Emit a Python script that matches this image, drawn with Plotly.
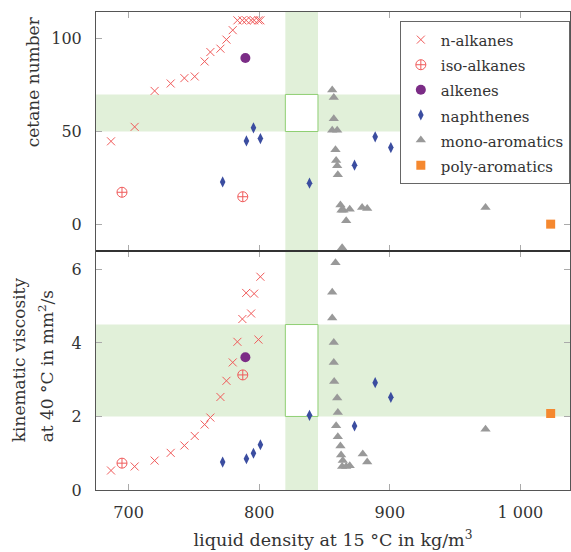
import plotly.graph_objects as go
from plotly.subplots import make_subplots

# ---------------- data ----------------
nalk_density = [686.5, 704.6, 719.9, 732.2, 742.7, 750.6, 758.2, 762.6, 770.3, 774.9,
                779.7, 783.3, 787.1, 790.0, 793.8, 796.1, 799.4, 800.9]
nalk_cetane = [44.7, 52.5, 71.9, 75.9, 78.8, 79.7, 87.8, 92.9, 94.7, 99.6,
               104.7, 110, 110, 110, 110, 110, 110, 110]
nalk_visc = [0.53, 0.64, 0.80, 1.01, 1.21, 1.47, 1.78, 1.97, 2.53, 2.97,
             3.47, 4.03, 4.65, 5.36, 4.80, 5.34, 4.09, 5.80]

iso_density = [694.9, 787.4]
iso_cetane = [17.2, 14.8]
iso_visc = [0.73, 3.13]

alkene_density = [789.4]
alkene_cetane = [89.7]
alkene_visc = [3.61]

naph_density = [772.0, 790.2, 795.6, 800.9, 838.5, 873.0, 888.8, 900.8]
naph_cetane = [22.8, 44.9, 52.0, 46.2, 22.1, 31.8, 47.1, 41.3]
naph_visc = [0.76, 0.85, 1.00, 1.23, 2.03, 1.74, 2.92, 2.52]

mono_density_cn = [855.9, 857.1, 857.1, 855.9, 859.7, 858.4, 858.9, 859.7, 860.2,
                   862.2, 863.0, 864.5, 869.3, 878.8, 882.7, 866.6, 863.5, 973.3]
mono_cetane = [72.4, 68.3, 56.9, 50.7, 50.7, 40.2, 34.4, 31.5, 26.6,
               10.3, 7.5, 7.5, 8.0, 9.0, 8.5, 1.8, -12.7, 9.0]
mono_density_v = [858.4, 855.9, 855.9, 857.1, 857.1, 857.4, 859.7, 860.2, 858.9, 860.2,
                  862.2, 862.7, 864.0, 863.5, 866.6, 869.3, 879.3, 882.7, 973.3]
mono_visc = [6.18, 5.38, 4.68, 4.01, 3.47, 2.95, 2.50, 2.11, 1.75, 1.45,
             1.20, 0.95, 0.80, 0.64, 0.64, 0.66, 0.98, 0.76, 1.65]

poly_density = [1023.2]
poly_cetane = [0]
poly_visc = [2.08]

# specification limits
density_lim = [820, 845]
cetane_lim = [50, 70]
visc_lim = [2.0, 4.5]

x_ticks = [700, 800, 900, 1000]
x_ticktext = ["700", "800", "900", "1 000"]
cn_ticks = [0, 50, 100]
v_ticks = [0, 2, 4, 6]

x_range = [675, 1038]
cn_range = [-14.5, 114.5]
v_range = [0, 6.5]

x_title = "liquid density at 15 °C in kg/m<sup>3</sup>"
cn_title = "cetane number"
v_title_lines = ["kinematic viscosity", "at 40 °C in mm<sup>2</sup>/s"]

# ---------------- styles ----------------
FONT = "DejaVu Serif"
TXT = "#333333"
RED = "#f05a5a"
styles = {
    "n-alkanes": dict(symbol="x-thin", size=8, color=RED, line=dict(width=1, color=RED)),
    "iso-alkanes": dict(symbol="circle-cross-open", size=10, color=RED, line=dict(width=1, color=RED)),
    "alkenes": dict(symbol="circle", size=10, color="#7b2c86"),
    "naphthenes": dict(symbol="diamond-tall", size=8, color="#3b4da0"),
    "mono-aromatics": dict(symbol="triangle-up", size=9, color="#999999"),
    "poly-aromatics": dict(symbol="square", size=9, color="#f5882f"),
}

series = [
    ("n-alkanes", nalk_density, nalk_cetane, nalk_density, nalk_visc),
    ("iso-alkanes", iso_density, iso_cetane, iso_density, iso_visc),
    ("alkenes", alkene_density, alkene_cetane, alkene_density, alkene_visc),
    ("naphthenes", naph_density, naph_cetane, naph_density, naph_visc),
    ("mono-aromatics", mono_density_cn, mono_cetane, mono_density_v, mono_visc),
    ("poly-aromatics", poly_density, poly_cetane, poly_density, poly_visc),
]

fig = make_subplots(rows=2, cols=1, shared_xaxes=True, vertical_spacing=0)

for name, xc, yc, xv, yv in series:
    fig.add_trace(go.Scatter(x=xc, y=yc, mode="markers",
                             name='<span style="font-size:15px">' + name + "</span>",
                             marker=styles[name], showlegend=True, cliponaxis=True),
                  row=1, col=1)
    fig.add_trace(go.Scatter(x=xv, y=yv, mode="markers", name=name,
                             marker=styles[name], showlegend=False, cliponaxis=True),
                  row=2, col=1)

BAND = "#e1f0d9"
EDGE = "#8fcf73"
for row, lim, yr in [(1, cetane_lim, cn_range), (2, visc_lim, v_range)]:
    xref = "x" if row == 1 else "x2"
    yref = "y" if row == 1 else "y2"
    fig.add_shape(type="rect", xref=xref, yref=yref, x0=density_lim[0], x1=density_lim[1],
                  y0=yr[0], y1=yr[1], fillcolor=BAND, line=dict(width=0), layer="below")
    fig.add_shape(type="rect", xref=xref, yref=yref, x0=x_range[0], x1=x_range[1],
                  y0=lim[0], y1=lim[1], fillcolor=BAND, line=dict(width=0), layer="below")
    fig.add_shape(type="rect", xref=xref, yref=yref, x0=density_lim[0], x1=density_lim[1],
                  y0=lim[0], y1=lim[1], fillcolor="white", line=dict(width=1, color=EDGE),
                  layer="below")

# separator line between panels
fig.add_shape(type="line", xref="paper", yref="paper", x0=0, x1=1, y0=0.5, y1=0.5,
              line=dict(width=2, color="#333333"))

axis_common = dict(showline=True, linecolor="#555555", linewidth=1, mirror="ticks",
                   ticks="inside", ticklen=6, tickcolor="#aaaaaa", showgrid=False,
                   zeroline=False, tickfont=dict(family=FONT, size=16, color=TXT))

fig.update_xaxes(range=x_range, tickvals=x_ticks, ticktext=x_ticktext,
                 ticklabelstandoff=8, **axis_common)
fig.update_xaxes(title=dict(text=x_title, font=dict(family=FONT, size=17.5, color=TXT), standoff=12),
                 row=2, col=1)
fig.update_yaxes(range=cn_range, tickvals=cn_ticks, ticklabelstandoff=10, row=1, col=1, **axis_common)
fig.update_yaxes(range=v_range, tickvals=v_ticks, ticklabelstandoff=10, row=2, col=1, **axis_common)

# y-axis titles as rotated annotations (positioned like the reference)
title_font = dict(family=FONT, size=17, color=TXT)
fig.add_annotation(text=cn_title, xref="paper", yref="paper", x=-0.133, y=0.855,
                   xanchor="center", yanchor="middle", textangle=-90, showarrow=False,
                   font=title_font)
fig.add_annotation(text=v_title_lines[0], xref="paper", yref="paper", x=-0.162, y=0.095,
                   xanchor="center", yanchor="bottom", textangle=-90, showarrow=False,
                   font=title_font)
fig.add_annotation(text=v_title_lines[1], xref="paper", yref="paper", x=-0.106, y=0.095,
                   xanchor="center", yanchor="bottom", textangle=-90, showarrow=False,
                   font=title_font)

fig.update_layout(
    width=571, height=552,
    margin=dict(l=96, r=1, t=12, b=62, autoexpand=False),
    plot_bgcolor="white", paper_bgcolor="white",
    font=dict(family=FONT, size=16, color=TXT),
    legend=dict(x=0.641, y=0.981, xanchor="left", yanchor="top",
                bgcolor="white", bordercolor="#666666", borderwidth=1,
                font=dict(family=FONT, size=17, color=TXT),
                itemwidth=30, tracegroupgap=0),
)

fig.write_html("out.html")
